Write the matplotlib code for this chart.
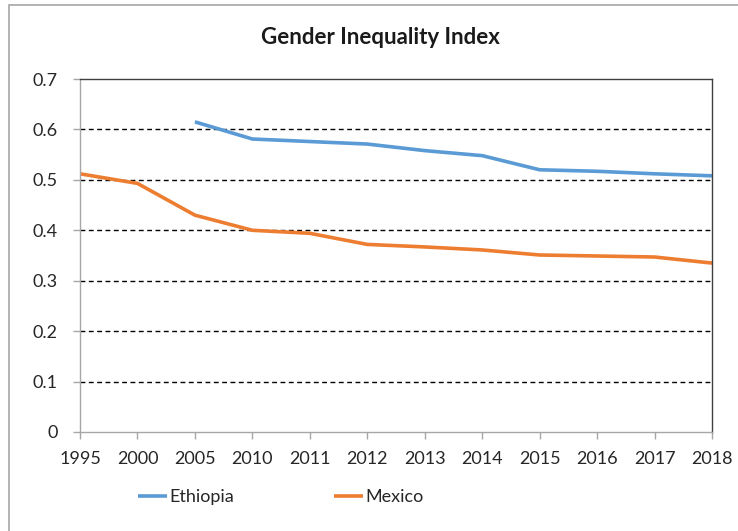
import matplotlib
matplotlib.use("Agg")
import matplotlib.pyplot as plt
from matplotlib.patches import Rectangle
import numpy as np

years = ["1995", "2000", "2005", "2010", "2011", "2012", "2013", "2014", "2015", "2016", "2017", "2018"]
ethiopia = [np.nan, np.nan, 0.615, 0.581, 0.576, 0.571, 0.558, 0.548, 0.520, 0.517, 0.512, 0.508]
mexico = [0.512, 0.493, 0.430, 0.400, 0.394, 0.372, 0.367, 0.361, 0.351, 0.349, 0.347, 0.335]
yticks = [0, 0.1, 0.2, 0.3, 0.4, 0.5, 0.6, 0.7]

plt.rcParams['font.family'] = ['Lato', 'DejaVu Sans']

fig = plt.figure(figsize=(7.38, 5.31), dpi=100)
fig.patches.append(Rectangle((9/738, -0.1), 1.2, (531-5)/531 + 0.1, transform=fig.transFigure,
                             fill=False, edgecolor='#a6a6a6', linewidth=1.2))
ax = fig.add_axes([80/738, 1 - 432/531, (712-80)/738, (432-79)/531])

x = np.arange(len(years))
ax.plot(x, ethiopia, color='#5b9bd5', linewidth=2.6, label='Ethiopia', solid_capstyle='butt')
ax.plot(x, mexico, color='#ed7d31', linewidth=2.6, label='Mexico', solid_capstyle='butt')

ax.set_xlim(0, len(years) - 1)
ax.set_ylim(0, 0.7)
ax.set_xticks(x)
ax.set_xticklabels(years)
ax.set_yticks(yticks)
ax.set_yticklabels([f"{v:g}" for v in yticks])
for v in yticks[1:-1]:
    ax.axhline(v, color='black', linestyle=(0, (3.5, 2.5)), linewidth=1.0, zorder=0)

for s in ['left', 'bottom']:
    ax.spines[s].set_color('#a6a6a6')
for s in ['top', 'right']:
    ax.spines[s].set_color('#404040')
for s in ax.spines.values():
    s.set_linewidth(1.0)

ax.tick_params(axis='both', colors='#a6a6a6', labelcolor='#262626', labelsize=13, length=5, width=1)
ax.tick_params(axis='x', pad=9)
ax.tick_params(axis='y', pad=11)

fig.text(380/738, 1 - 37/531, "Gender Inequality Index", ha='center', va='center',
         fontsize=16, fontweight='bold', color='#1a1a1a')

leg = fig.legend(loc='center', bbox_to_anchor=(281/738, 1 - 497/531), ncol=2, frameon=False,
                 fontsize=13, handlelength=1.6, handletextpad=0.15, columnspacing=5.5)
for t in leg.get_texts():
    t.set_color('#262626')

fig.savefig("out.png", dpi=100)
